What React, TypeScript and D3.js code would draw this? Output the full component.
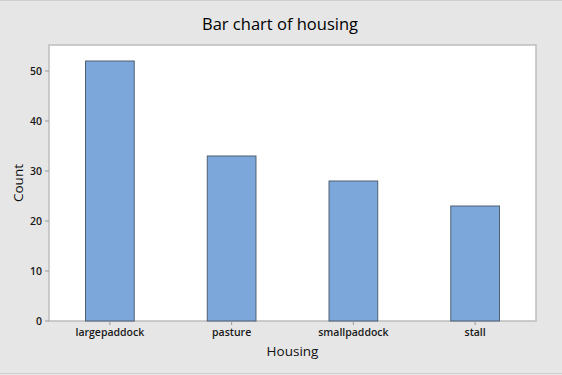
import React from "react";
import * as d3 from "d3";

const categories = ["largepaddock", "pasture", "smallpaddock", "stall"];
const counts = [52, 33, 28, 23];
const yTicks = [0, 10, 20, 30, 40, 50];

const W = 562;
const H = 375;
const plot = { left: 49, right: 536, top: 45, bottom: 321 };
const font = "'Open Sans', 'Noto Sans', sans-serif";

export default function App() {
  const x = d3
    .scaleBand<string>()
    .domain(categories)
    .range([plot.left, plot.right])
    .paddingInner(0.6)
    .paddingOuter(0.3);
  const y = d3
    .scaleLinear()
    .domain([0, (plot.bottom - plot.top) / 5])
    .range([plot.bottom, plot.top]);

  return (
    <svg
      width={W}
      height={H}
      style={{ position: "absolute", left: 0, top: 0 }}
      fontFamily={font}
    >
      <rect x={0} y={0} width={W} height={H} fill="#e6e6e6" />
      <line x1={0} x2={W} y1={0.5} y2={0.5} stroke="#cfcfcf" />
      <line x1={0} x2={W} y1={H - 1.5} y2={H - 1.5} stroke="#cfcfcf" />
      <rect
        x={plot.left}
        y={plot.top}
        width={plot.right - plot.left}
        height={plot.bottom - plot.top}
        fill="#ffffff"
        stroke="#bdbdbd"
        strokeWidth={1.5}
      />
      {categories.map((c, i) => (
        <rect
          key={c}
          x={x(c)}
          y={y(counts[i])}
          width={x.bandwidth()}
          height={y(0) - y(counts[i])}
          fill="#7ba7da"
          stroke="#4f5f72"
          strokeWidth={1}
        />
      ))}
      {yTicks.map((t) => (
        <g key={t}>
          <line
            x1={plot.left - 4}
            x2={plot.left}
            y1={y(t)}
            y2={y(t)}
            stroke="#9a9a9a"
          />
          <text
            x={plot.left - 7}
            y={y(t)}
            dy="0.35em"
            textAnchor="end"
            fontSize={10.5}
            fontWeight={600}
            fill="#1a1a1a"
          >
            {t}
          </text>
        </g>
      ))}
      {categories.map((c) => {
        const cx = (x(c) as number) + x.bandwidth() / 2;
        return (
          <g key={c}>
            <line
              x1={cx}
              x2={cx}
              y1={plot.bottom}
              y2={plot.bottom + 4}
              stroke="#9a9a9a"
            />
            <text
              x={cx}
              y={plot.bottom + 15}
              textAnchor="middle"
              fontSize={10.5}
              fontWeight={600}
              fill="#1a1a1a"
            >
              {c}
            </text>
          </g>
        );
      })}
      <text
        x={280}
        y={30}
        textAnchor="middle"
        fontSize={16.5}
        fontWeight={500}
        fill="#000000"
      >
        Bar chart of housing
      </text>
      <text
        x={(plot.left + plot.right) / 2}
        y={356}
        textAnchor="middle"
        fontSize={13.5}
        fontWeight={500}
        fill="#111111"
      >
        Housing
      </text>
      <text
        transform={`translate(23,${(plot.top + plot.bottom) / 2}) rotate(-90)`}
        textAnchor="middle"
        fontSize={13.5}
        fontWeight={500}
        fill="#111111"
      >
        Count
      </text>
    </svg>
  );
}
